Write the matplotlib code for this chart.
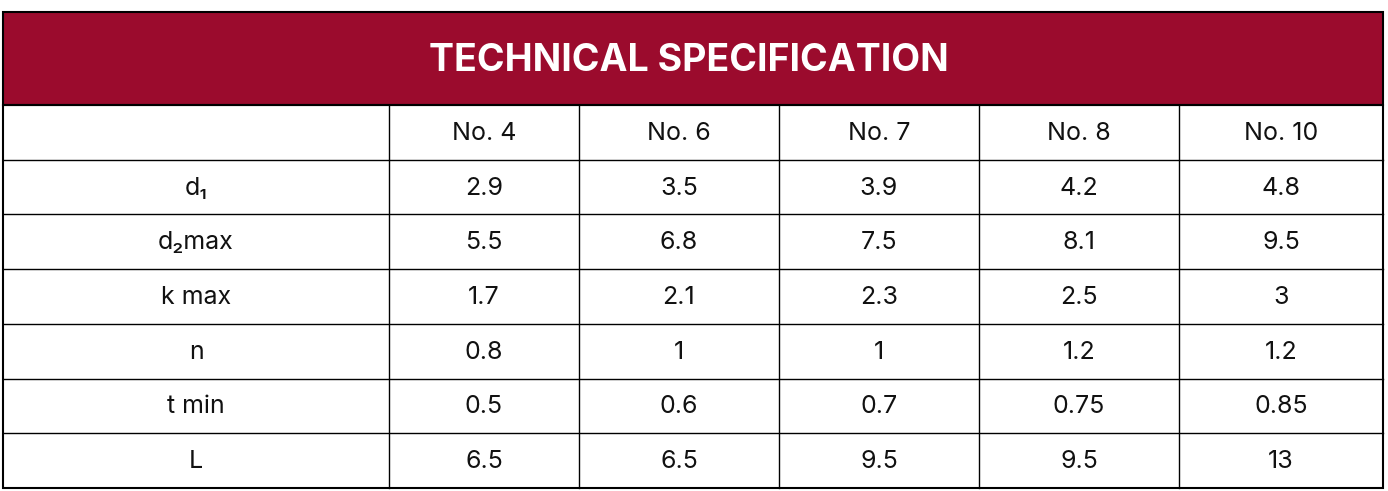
import matplotlib.pyplot as plt
from matplotlib.patches import Rectangle

plt.rcParams['font.family'] = ['Inter', 'Open Sans', 'DejaVu Sans']

title = "TECHNICAL SPECIFICATION"
columns = ["No. 4", "No. 6", "No. 7", "No. 8", "No. 10"]
row_labels = ["d₁", "d₂max", "k max", "n", "t min", "L"]
values = [
    ["2.9", "3.5", "3.9", "4.2", "4.8"],
    ["5.5", "6.8", "7.5", "8.1", "9.5"],
    ["1.7", "2.1", "2.3", "2.5", "3"],
    ["0.8", "1", "1", "1.2", "1.2"],
    ["0.5", "0.6", "0.7", "0.75", "0.85"],
    ["6.5", "6.5", "9.5", "9.5", "13"],
]

W, H = 1388, 491
fig = plt.figure(figsize=(W / 100, H / 100), dpi=100)
ax = fig.add_axes([0, 0, 1, 1])
ax.set_xlim(0, W)
ax.set_ylim(H, 0)
ax.axis("off")

red = "#9B0B2D"
x_edges = [3, 389, 579, 779, 979, 1179, 1383]
top, head_bottom, bottom = 12, 105, 488
n_rows = len(row_labels) + 1
row_h = (bottom - head_bottom) / n_rows
y_edges = [head_bottom + i * row_h for i in range(n_rows + 1)]

# header band
ax.add_patch(Rectangle((x_edges[0], top), x_edges[-1] - x_edges[0], head_bottom - top,
                       facecolor=red, edgecolor="black", linewidth=1.5))
ax.text((x_edges[0] + x_edges[-1]) / 2 - 4, (top + head_bottom) / 2 + 2, title,
        color="white", fontsize=27, fontweight="bold", ha="center", va="center")

# grid lines
for y in y_edges[1:-1]:
    ax.plot([x_edges[0], x_edges[-1]], [y, y], color="black", linewidth=1)
for x in x_edges[1:-1]:
    ax.plot([x, x], [head_bottom, bottom], color="black", linewidth=1)
ax.add_patch(Rectangle((x_edges[0], head_bottom), x_edges[-1] - x_edges[0], bottom - head_bottom,
                       facecolor="none", edgecolor="black", linewidth=1.5))

def cx(i):
    return (x_edges[i] + x_edges[i + 1]) / 2

def cy(r):
    return (y_edges[r] + y_edges[r + 1]) / 2 + 1

for j, c in enumerate(columns):
    ax.text(cx(j + 1), cy(0), c, fontsize=18, ha="center", va="center", color="#111111")
for r, (lab, vals) in enumerate(zip(row_labels, values)):
    ax.text(cx(0), cy(r + 1), lab, fontsize=18, ha="center", va="center", color="#111111")
    for j, v in enumerate(vals):
        ax.text(cx(j + 1), cy(r + 1), v, fontsize=18, ha="center", va="center", color="#111111")

fig.savefig("out.png", dpi=100, facecolor="white")
